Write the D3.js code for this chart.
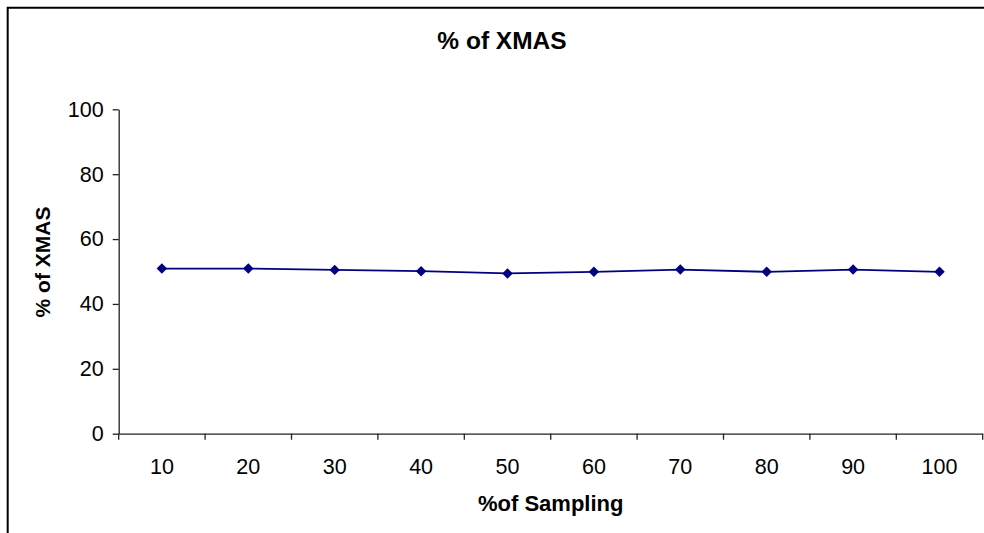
<!DOCTYPE html>
<html>
<head>
<meta charset="utf-8">
<script src="https://cdn.jsdelivr.net/npm/d3@7"></script>
<style>
  body { margin: 0; background: #fff; }
  svg { display: block; font-family: "Liberation Sans", Arial, sans-serif; }
</style>
</head>
<body>
<svg width="984" height="533"></svg>
<script>
// sampling percentages on the x axis
const sampling = ['10', '20', '30', '40', '50', '60', '70', '80', '90', '100'];
// % of XMAS
const xmas = [50.9, 50.9, 50.5, 50.1, 49.4, 49.9, 50.6, 49.9, 50.6, 49.9];
const yTicks = [0, 20, 40, 60, 80, 100];

const svg = d3.select('svg');

// outer chart frame: only left and top edges are inside the picture
svg.append('path')
    .attr('d', 'M7.7,533 V7.7 H984')
    .attr('fill', 'none')
    .attr('stroke', '#000')
    .attr('stroke-width', 2);

const plotLeft = 118.7, plotRight = 982.7, plotTop = 109.3, plotBottom = 433.7;

const x = d3.scaleBand()
    .domain(sampling)
    .range([plotLeft, plotRight])
    .padding(0);

const y = d3.scaleLinear()
    .domain([0, 100])
    .range([plotBottom, plotTop]);

// y axis
const yAxis = svg.append('g')
    .attr('transform', `translate(${plotLeft},0)`)
    .call(d3.axisLeft(y).tickValues(yTicks).tickSize(6).tickSizeOuter(0).tickPadding(9));

yAxis.select('.domain').attr('stroke', '#222').attr('stroke-width', 1.3);
yAxis.selectAll('.tick line').attr('stroke', '#222').attr('stroke-width', 1.3);
yAxis.selectAll('text')
    .style('font-size', '21.5px')
    .attr('fill', '#000');

// x axis: labels centred in bands, ticks on band edges
const xAxis = svg.append('g')
    .attr('transform', `translate(0,${plotBottom})`)
    .call(d3.axisBottom(x).tickSize(0).tickSizeOuter(0).tickPadding(25));

xAxis.select('.domain').attr('stroke', '#222').attr('stroke-width', 1.3);
xAxis.selectAll('text')
    .style('font-size', '21.5px')
    .attr('fill', '#000');

const edges = sampling.map(d => x(d)).concat([x.range()[1]]);
xAxis.selectAll('.edge')
    .data(edges)
    .join('line')
    .attr('class', 'edge')
    .attr('x1', d => d)
    .attr('x2', d => d)
    .attr('y1', 0)
    .attr('y2', 6)
    .attr('stroke', '#222')
    .attr('stroke-width', 1.3);

// series line
const line = d3.line()
    .x((d, i) => x(sampling[i]) + x.bandwidth() / 2)
    .y(d => y(d));

svg.append('path')
    .datum(xmas)
    .attr('d', line)
    .attr('fill', 'none')
    .attr('stroke', '#000080')
    .attr('stroke-width', 1.8);

const diamond = d3.symbol().type(d3.symbolDiamond2).size(70);

svg.selectAll('.pt')
    .data(xmas)
    .join('path')
    .attr('class', 'pt')
    .attr('d', diamond)
    .attr('transform', (d, i) => `translate(${x(sampling[i]) + x.bandwidth() / 2},${y(d)})`)
    .attr('fill', '#000080');

// titles
svg.append('text')
    .attr('x', 502)
    .attr('y', 49)
    .attr('text-anchor', 'middle')
    .style('font-size', '24.5px')
    .style('font-weight', 'bold')
    .text('% of XMAS');

svg.append('text')
    .attr('transform', 'translate(50,262) rotate(-90)')
    .attr('text-anchor', 'middle')
    .style('font-size', '21px')
    .style('font-weight', 'bold')
    .text('% of XMAS');

svg.append('text')
    .attr('x', (plotLeft + plotRight) / 2)
    .attr('y', 511)
    .attr('text-anchor', 'middle')
    .style('font-size', '22px')
    .style('font-weight', 'bold')
    .text('%of Sampling');
</script>
</body>
</html>
